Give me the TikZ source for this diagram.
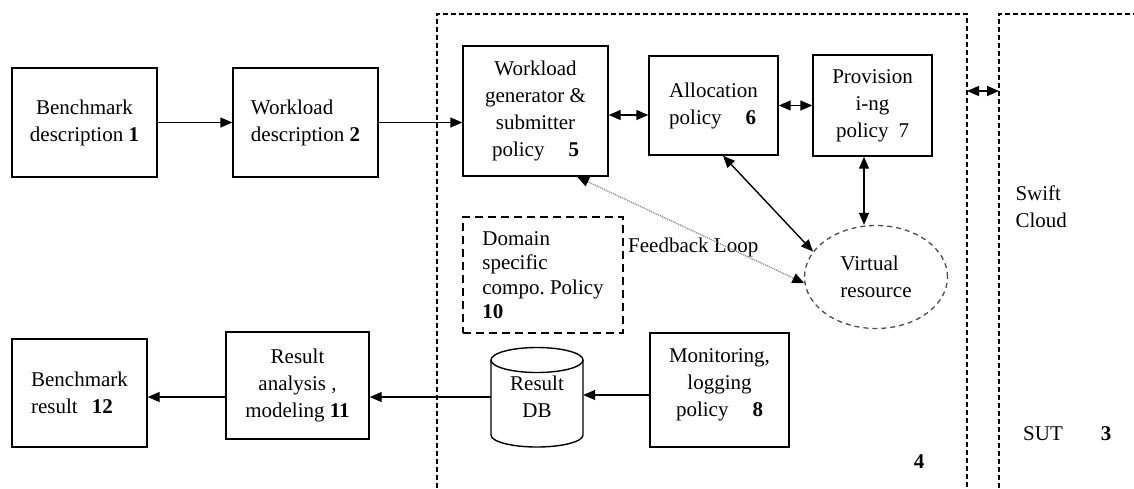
\documentclass[tikz,border=0pt]{standalone}
\usepackage{fontspec}
\setmainfont{Liberation Serif}
\usetikzlibrary{arrows.meta,shapes.geometric}
\frenchspacing

\begin{document}
\begin{tikzpicture}[x=1pt,y=-1pt,
	every node/.style={font=\fontsize{21}{27}\selectfont},
	box/.style={draw,line width=1.4pt,align=center,inner sep=2pt},
	tri/.style={-{Triangle[length=12pt,width=10pt]}},
	bitri/.style={{Triangle[length=12pt,width=10pt]}-{Triangle[length=12pt,width=10pt]}},
	feedback/.style={{Triangle[length=12pt,width=10pt,color=black]}-{Triangle[length=12pt,width=10pt,color=black]},gray,line width=1.3pt,dash pattern=on 1pt off 1pt},
	region/.style={line width=1.2pt,dash pattern=on 5pt off 3pt}]
\useasboundingbox (0,0) rectangle (1134,488);

\draw [region] (437,488) -- (437,14) -- (967,14) -- (967,488);
\draw [region] (999,488) -- (999,14) -- (1134,14);

\path (84.5,122.5) node[box,minimum width=145pt,minimum height=109pt] (bench) {Benchmark\\description \textbf{1}};
\path (305.5,122.5) node[box,align=left,minimum width=145pt,minimum height=109pt] (wdesc) {Workload\\description \textbf{2}};
\path (535.5,111) node[box,minimum width=145pt,minimum height=130pt] (gen) {Workload\\generator \&\\submitter\\policy\hspace{24pt}\textbf{5}};
\path (713.5,105.5) node[box,align=left,minimum width=129pt,minimum height=99pt] (alloc) {Allocation\\policy\hspace{24pt}\textbf{6}};
\path (872.5,105.5) node[box,minimum width=119pt,minimum height=101pt] (prov) {Provision\\i-ng\\policy\hspace{10pt}7};
\path (543,275) node[draw,line width=2pt,dash pattern=on 8pt off 5pt,align=left,minimum width=160pt,minimum height=116pt,font=\fontsize{21}{24.5}\selectfont] (dom) {Domain\\specific\\compo. Policy\\\textbf{10}};
\path (876,277) node[ellipse,draw=gray!60!black,line width=1.3pt,dash pattern=on 5pt off 4pt,align=left,minimum width=143pt,minimum height=103pt] (vres) {Virtual\\resource};
\path (719.5,390) node[box,minimum width=139pt,minimum height=114pt] (mon) {Monitoring,\\logging\\policy\hspace{24pt}\textbf{8}\\[-13pt]};
\path (537,397) node[align=center,minimum width=92pt,minimum height=99pt] (db) {Result\\DB};
\path (297.5,385.5) node[box,minimum width=143pt,minimum height=107pt] (res) {Result\\analysis ,\\modeling \textbf{11}};
\path (79.5,393) node[box,align=left,minimum width=135pt,minimum height=108pt] (bres) {Benchmark\\result\hspace{14pt}\textbf{12}};

\draw [line width=1.4pt] (537,360) ellipse [x radius=46pt,y radius=12.5pt];
\draw [line width=1.4pt] (491,360) -- (491,435) arc [start angle=180,end angle=360,x radius=46pt,y radius=12pt] -- (583,360);

\path (628,247) node[anchor=west,inner sep=0pt] (fbl) {Feedback Loop};
\path (919,462) node (n4) {\textbf{4}};
\path (1043,434) node (sutl) {SUT};
\path (1106,434) node (n3) {\textbf{3}};
\path (1012,207) node[anchor=west,align=left] (swift) {Swift\\Cloud};
\coordinate (r4) at (967,91);
\coordinate (sut) at (999,91);

\draw [tri,line width=1.4pt] (bench) -- (wdesc);
\draw [tri,line width=1.4pt] (wdesc.east) -- (wdesc.east -| gen.west);
\draw [bitri,line width=1.4pt] ([yshift=-4pt]gen.east) -- ([yshift=-4pt]gen.east -| alloc.west);
\draw [bitri,line width=1.4pt] (alloc.east) -- (prov.west);
\draw [bitri,line width=1.4pt] (r4) -- (sut);
\draw [bitri,line width=1.4pt] ([xshift=9.5pt]alloc.south) -- (vres.158);
\draw [bitri,line width=1.4pt] ([xshift=-8.5pt]prov.south) -- ([xshift=-8.5pt]prov.south |- vres.north);
\draw [feedback] ([xshift=41.5pt]gen.south) -- (vres.185);
\draw [tri,line width=1.4pt] ([yshift=-5pt]mon.west) -- ([yshift=-5pt]mon.west -| db.east);
\draw [line width=1.4pt,tri] (db.west) -- (db.west -| res.east);
\draw [line width=1.4pt,tri] (db.west -| res.west) -- (db.west -| bres.east);

\end{tikzpicture}
\end{document}
